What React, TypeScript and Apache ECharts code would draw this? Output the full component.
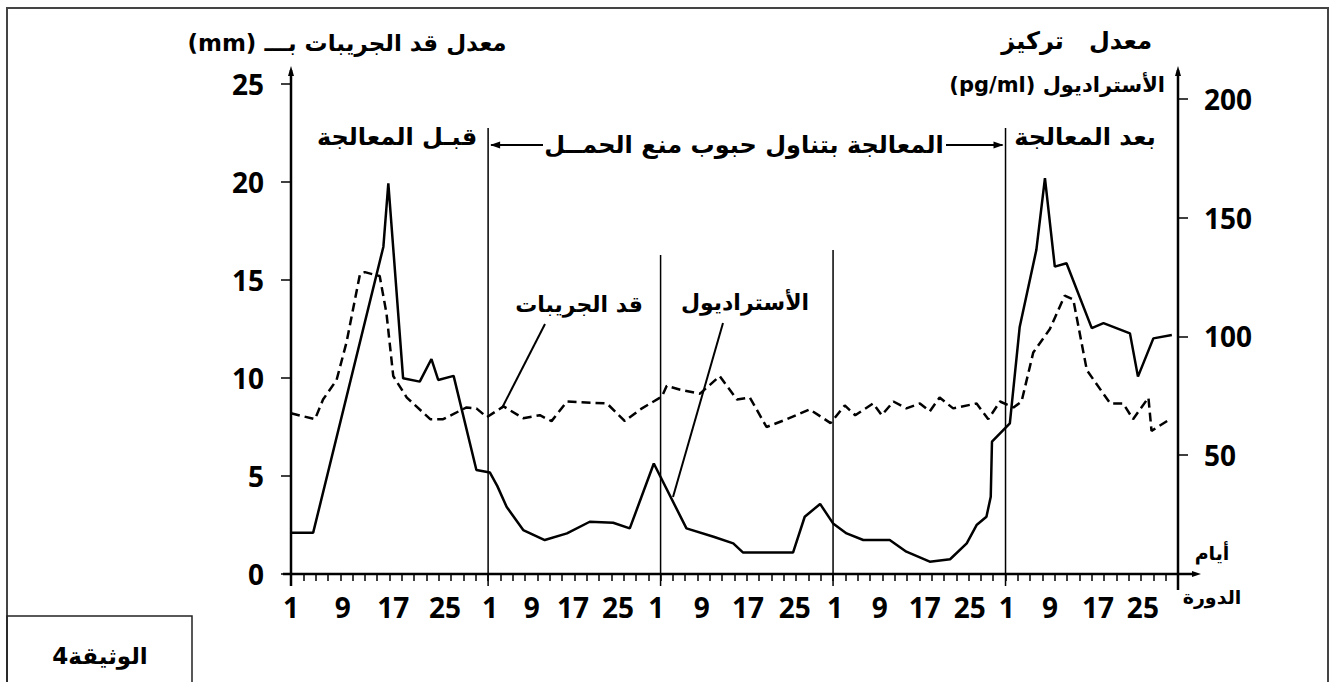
import React, { useEffect, useRef } from "react";
import * as echarts from "echarts";

// Day index runs continuously over 5 cycles: first (pre-treatment) cycle spans 32 days, the others 28.
const follicleDays = [0, 3.9, 5.2, 7.4, 9.0, 11.2, 12, 14.4, 15.5, 16.6, 18.8, 22.6, 24.7, 28.5, 30.1, 31.8, 34.5, 37.7, 40.4, 42.3, 44.8, 51.3, 54.2, 56.7, 60.2, 61, 63.2, 66.4, 69.6, 72.4, 74.5, 77.2, 80.5, 84.2, 87.6, 89.9, 91.6, 94.5, 95.9, 97.8, 99.9, 102.1, 103.7, 105.3, 107.5, 111.3, 113.2, 115.1, 117.3, 118.6, 120.5, 123.2, 125.6, 127, 129.2, 133, 135.1, 136.7, 139.2, 139.7, 142.7];
const follicleMm = [8.2, 7.9, 8.9, 9.9, 11.8, 15.3, 15.4, 15.2, 13.3, 10.1, 9.0, 7.9, 7.9, 8.5, 8.45, 8.0, 8.55, 7.95, 8.1, 7.8, 8.8, 8.7, 7.8, 8.4, 9.05, 9.6, 9.4, 9.2, 10.1, 8.9, 9.0, 7.5, 7.9, 8.4, 7.7, 8.6, 8.1, 8.7, 8.1, 8.8, 8.45, 8.7, 8.3, 9.0, 8.45, 8.7, 7.9, 8.8, 8.5, 8.8, 11.3, 12.5, 14.2, 14.0, 10.4, 8.7, 8.7, 7.9, 9.0, 7.3, 7.9];

const estradiolDays = [0, 3.6, 15, 15.8, 18.2, 20.9, 22.8, 23.9, 26.4, 30.1, 32.3, 33.5, 35, 37.7, 41.2, 44.8, 48.5, 52.3, 55, 58.9, 64.2, 68.6, 71.8, 73.4, 81.5, 83.4, 85.9, 88, 90.2, 92.9, 97.2, 99.9, 103.7, 107, 109.7, 111.3, 112.9, 113.6, 113.8, 116.7, 118.3, 121, 122.4, 124, 125.9, 130, 131.9, 136.2, 137.5, 140, 143];
const estradiolPg = [17.4, 17.4, 137.8, 164.5, 82.4, 81, 90.5, 81.7, 83.4, 43.8, 42.7, 37, 28.3, 18.5, 14.3, 17.1, 22, 21.6, 19.2, 46.5, 19.2, 15.7, 12.9, 9, 9, 24.1, 29.5, 21.3, 17.1, 14.3, 14.3, 9.4, 5.2, 6.2, 12.9, 20.6, 24.1, 32.5, 55.7, 63.4, 104, 136.4, 166.7, 129.4, 130.8, 103.5, 105.6, 101.3, 83.1, 99.2, 100.6];

// where the day labels sit along the day axis (as printed in the document)
const dayLabelPositions = [0, 8.4, 16.6, 25, 32.3, 39.1, 45.8, 53.1, 59.3, 66.7, 74.2, 81.8, 88.3, 95.6, 102.9, 110.2, 116.2, 123.2, 131, 138.3];
const dayLabelTexts = ["1", "9", "17", "25", "1", "9", "17", "25", "1", "9", "17", "25", "1", "9", "17", "25", "1", "9", "17", "25"];
const cycleStarts = [32, 60, 88, 116];
const rightAxisTicks = [50, 100, 150, 200];

const RTL = (s: string) => "\u202B" + s + "\u202C";

export default function App() {
  const ref = useRef<HTMLDivElement>(null);
  useEffect(() => {
    const chart = echarts.init(ref.current!, null, { renderer: "svg" });
    const numFont = "Open Sans";
    const arFont = "DejaVu Sans";
    chart.setOption({
      animation: false,
      backgroundColor: "#fff",
      grid: { left: 291, right: 153, top: 84, bottom: 108, containLabel: false, outerBoundsMode: "none" },
      xAxis: {
        type: "value",
        min: 0,
        max: 144,
        interval: 2,
        axisLine: { show: false },
        splitLine: { show: false },
        axisTick: { show: true, length: 7, lineStyle: { color: "#000", width: 1.5 } },
        axisLabel: { show: false },
      },
      yAxis: [
        {
          type: "value",
          min: 0,
          max: 25,
          interval: 5,
          axisLine: { show: false },
          splitLine: { show: false },
          axisTick: { show: true, length: 10, lineStyle: { color: "#000", width: 1.5 } },
          axisLabel: { color: "#000", fontSize: 28, fontWeight: "bold", fontFamily: numFont, margin: 27 },
        },
        {
          type: "value",
          position: "right",
          min: 0,
          max: 206.3,
          interval: 50,
          axisLine: { show: false },
          splitLine: { show: false },
          axisTick: { show: true, length: 10, customValues: rightAxisTicks, lineStyle: { color: "#000", width: 1.5 } },
          axisLabel: { show: false },
        },
      ],
      series: [
        {
          name: "قد الجريبات",
          type: "line",
          yAxisIndex: 0,
          showSymbol: false,
          data: follicleDays.map((d, i) => [d, follicleMm[i]]),
          lineStyle: { color: "#000", width: 2.5, type: [9, 5] },
        },
        {
          name: "الأستراديول",
          type: "line",
          yAxisIndex: 1,
          showSymbol: false,
          data: estradiolDays.map((d, i) => [d, estradiolPg[i]]),
          lineStyle: { color: "#000", width: 2.5 },
        },
      ],
    });

    const X = (d: number) => chart.convertToPixel({ xAxisIndex: 0 }, d) as number;
    const YL = (v: number) => chart.convertToPixel({ yAxisIndex: 0 }, v) as number;
    const YR = (v: number) => chart.convertToPixel({ yAxisIndex: 1 }, v) as number;
    const x0 = X(0);
    const xEnd = X(144);
    const y0 = YL(0);
    const yTop = YL(25);

    const els: any[] = [];
    const line = (x1: number, y1: number, x2: number, y2: number, w = 2) =>
      els.push({ type: "line", silent: true, shape: { x1, y1, x2, y2 }, style: { stroke: "#000", lineWidth: w } });
    const tri = (pts: number[][]) => els.push({ type: "polygon", silent: true, shape: { points: pts }, style: { fill: "#000" } });
    const text = (s: string, x: number, y: number, size: number, align = "center", family = arFont) =>
      els.push({
        type: "text",
        silent: true,
        x,
        y,
        style: { text: s, fill: "#000", font: `bold ${size}px "${family}"`, align, verticalAlign: "middle" },
      });

    // outer frame and document box
    els.push({ type: "rect", silent: true, shape: { x: 7, y: 8, width: 1321, height: 700 }, style: { fill: "none", stroke: "#444", lineWidth: 2 } });
    els.push({ type: "rect", silent: true, shape: { x: 7, y: 616, width: 185, height: 90 }, style: { fill: "none", stroke: "#222", lineWidth: 1.5 } });
    text(RTL("الوثيقة4"), 100, 656, 23);

    // axes
    line(x0, y0 + 12, x0, yTop - 14, 2.5);
    tri([[x0 - 3, yTop - 8], [x0 + 3, yTop - 8], [x0, yTop - 18]]);
    line(xEnd, y0 + 16, xEnd, yTop - 14, 2.5);
    tri([[xEnd - 3, yTop - 8], [xEnd + 3, yTop - 8], [xEnd, yTop - 18]]);
    line(x0 - 8, y0, xEnd + 16, y0, 2.5);
    tri([[xEnd + 14, y0 - 3], [xEnd + 14, y0 + 3], [xEnd + 23, y0]]);

    // axis labels
    rightAxisTicks.forEach((v) => text(String(v), xEnd + 26, YR(v), 28, "left", numFont));
    dayLabelPositions.forEach((d, i) => text(dayLabelTexts[i], X(d), y0 + 33, 28, "center", numFont));

    // cycle separators
    const sepTops = [128, 255, 250, 128];
    cycleStarts.forEach((d, i) => line(X(d), sepTops[i], X(d), y0 + 12, 1.5));

    // treatment arrows
    const arrowY = 145;
    line(X(32) + 3, arrowY, 543, arrowY, 1.8);
    tri([[X(32) + 2, arrowY], [X(32) + 12, arrowY - 3.5], [X(32) + 12, arrowY + 3.5]]);
    line(946, arrowY, X(116) - 3, arrowY, 1.8);
    tri([[X(116) - 2, arrowY], [X(116) - 12, arrowY - 3.5], [X(116) - 12, arrowY + 3.5]]);

    // titles
    text(RTL("معدل قد الجريبات بـــ (mm)"), 347, 43, 23);
    text("معدل   تركيز", 1152, 41, 24, "right");
    text(RTL("الأستراديول (pg/ml)"), 1165, 85, 21, "right");
    text("قبـل المعالجة", 397, 137, 24);
    text("المعالجة بتناول حبوب منع الحمــل", 744, 145, 24);
    text("بعد المعالجة", 1085, 137, 24);

    // series annotations
    text("قد الجريبات", 579, 304, 22);
    line(545, 324, 502, 408, 2);
    text("الأستراديول", 745, 302, 22);
    line(723, 323, 673, 497, 2);

    // x axis title
    text("أيام", 1212, 553, 19);
    text("الدورة", 1212, 597, 19);

    chart.setOption({ graphic: { elements: els } });
    return () => chart.dispose();
  }, []);
  return <div ref={ref} style={{ position: "fixed", left: 0, top: 0, width: 1331, height: 682 }} />;
}
